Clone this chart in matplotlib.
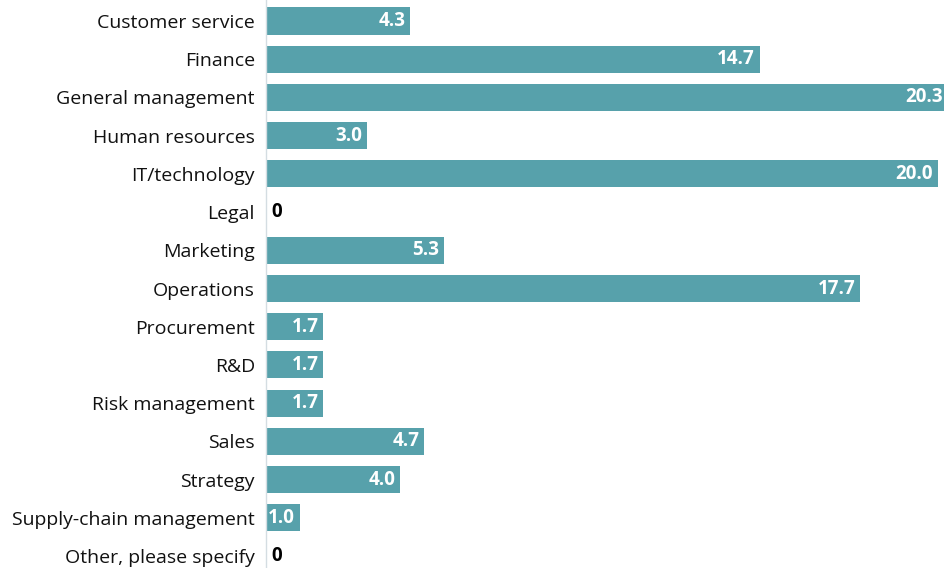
import numpy as np
import matplotlib.pyplot as plt

plt.rcParams['font.family'] = ['Open Sans', 'DejaVu Sans']

functions = ["Customer service", "Finance", "General management", "Human resources",
             "IT/technology", "Legal", "Marketing", "Operations", "Procurement", "R&D",
             "Risk management", "Sales", "Strategy", "Supply-chain management",
             "Other, please specify"]
shares = [4.3, 14.7, 20.3, 3.0, 20.0, 0, 5.3, 17.7, 1.7, 1.7, 1.7, 4.7, 4.0, 1.0, 0]

bar_color = '#57a1ab'

fig = plt.figure(figsize=(9.45, 5.68), dpi=100)
ax = fig.add_axes([266 / 945, 0, 1 - 266 / 945, 1])

y = np.arange(len(functions))
ax.barh(y, shares, height=0.71, color=bar_color, zorder=2)
ax.set_xlim(0, 20.22)
ax.set_ylim(14 + 12 / 38.2, -21 / 38.2)

# values sit inside the bar end; zeros go just right of the axis
for yi, v in zip(y, shares):
    if v == 0:
        ax.text(0.16, yi, '0', ha='left', va='center', fontsize=13.5,
                fontweight='bold', color='black')
    else:
        ax.text(v - 0.14, yi, f'{v:.1f}', ha='right', va='center', fontsize=13.5,
                fontweight='bold', color='white')

ax.set_yticks(y)
ax.set_yticklabels(functions, fontsize=14, color='#111111')
ax.tick_params(axis='y', length=0, pad=8)
ax.set_xticks([])
for s in ['top', 'right', 'bottom']:
    ax.spines[s].set_visible(False)
ax.spines['left'].set_color('#d4dde2')
ax.spines['left'].set_linewidth(1)

fig.savefig('out.png', dpi=100)
